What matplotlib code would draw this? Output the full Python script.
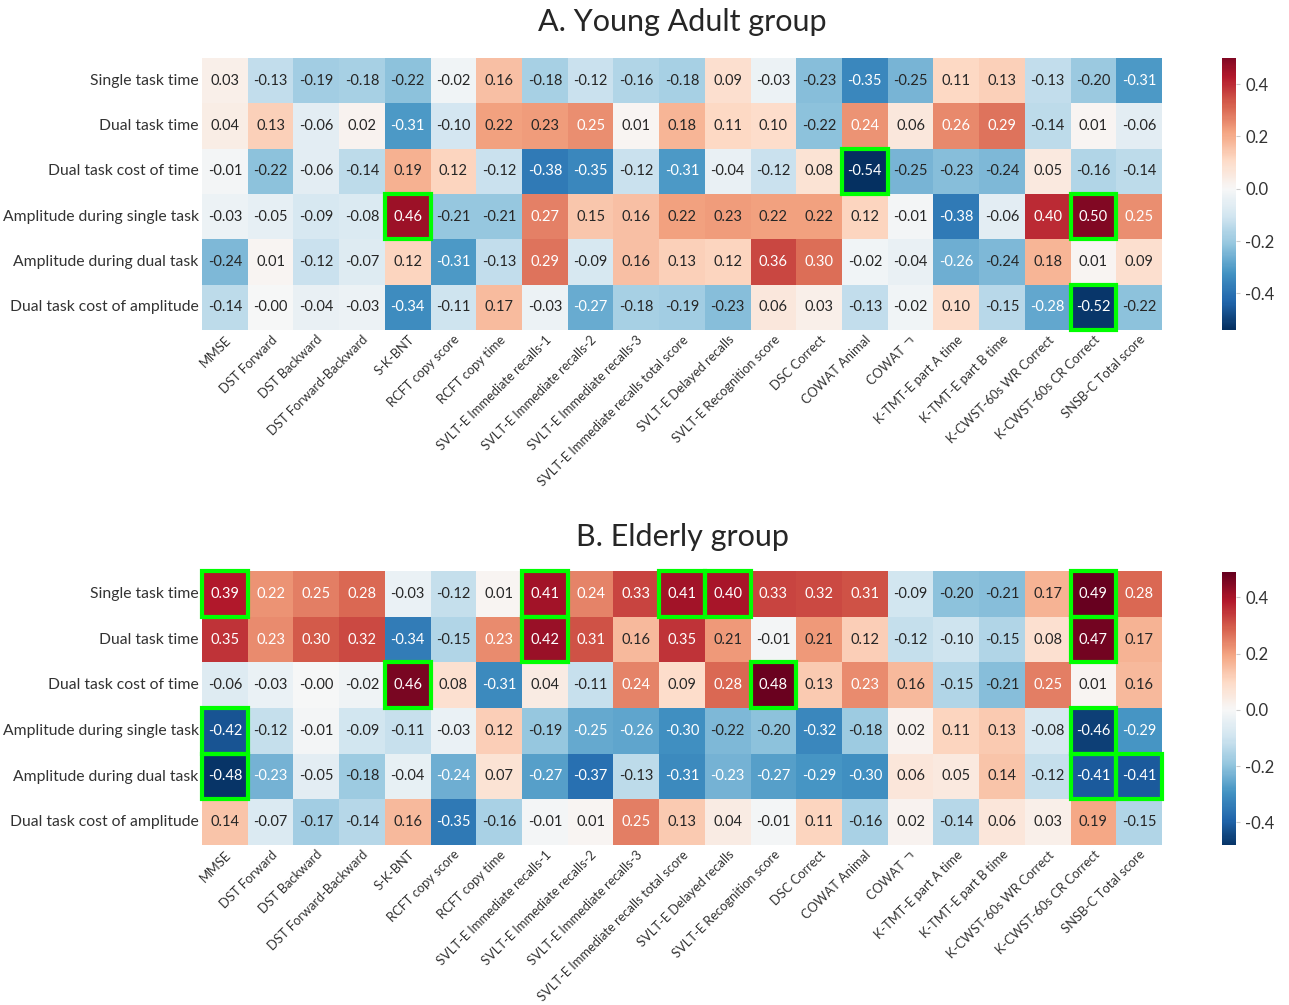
import numpy as np
import matplotlib
matplotlib.use("Agg")
import matplotlib.pyplot as plt
import seaborn as sns
from matplotlib.patches import Rectangle

sns.set_style("white")
plt.rcParams['font.family'] = ['Lato', 'Noto Sans CJK KR', 'DejaVu Sans']
plt.rcParams['axes.unicode_minus'] = False

rows = ["Single task time", "Dual task time", "Dual task cost of time",
        "Amplitude during single task", "Amplitude during dual task",
        "Dual task cost of amplitude"]
cols = ["MMSE", "DST Forward", "DST Backward", "DST Forward-Backward", "S-K-BNT",
        "RCFT copy score", "RCFT copy time", "SVLT-E Immediate recalls-1",
        "SVLT-E Immediate recalls-2", "SVLT-E Immediate recalls-3",
        "SVLT-E Immediate recalls total score", "SVLT-E Delayed recalls",
        "SVLT-E Recognition score", "DSC Correct", "COWAT Animal", "COWAT ㄱ",
        "K-TMT-E part A time", "K-TMT-E part B time", "K-CWST-60s WR Correct",
        "K-CWST-60s CR Correct", "SNSB-C Total score"]

young = [
    [0.03, -0.13, -0.19, -0.18, -0.22, -0.02, 0.16, -0.18, -0.12, -0.16, -0.18, 0.09, -0.03, -0.23, -0.35, -0.25, 0.11, 0.13, -0.13, -0.20, -0.31],
    [0.04, 0.13, -0.06, 0.02, -0.31, -0.10, 0.22, 0.23, 0.25, 0.01, 0.18, 0.11, 0.10, -0.22, 0.24, 0.06, 0.26, 0.29, -0.14, 0.01, -0.06],
    [-0.01, -0.22, -0.06, -0.14, 0.19, 0.12, -0.12, -0.38, -0.35, -0.12, -0.31, -0.04, -0.12, 0.08, -0.54, -0.25, -0.23, -0.24, 0.05, -0.16, -0.14],
    [-0.03, -0.05, -0.09, -0.08, 0.46, -0.21, -0.21, 0.27, 0.15, 0.16, 0.22, 0.23, 0.22, 0.22, 0.12, -0.01, -0.38, -0.06, 0.40, 0.50, 0.25],
    [-0.24, 0.01, -0.12, -0.07, 0.12, -0.31, -0.13, 0.29, -0.09, 0.16, 0.13, 0.12, 0.36, 0.30, -0.02, -0.04, -0.26, -0.24, 0.18, 0.01, 0.09],
    [-0.14, -0.00, -0.04, -0.03, -0.34, -0.11, 0.17, -0.03, -0.27, -0.18, -0.19, -0.23, 0.06, 0.03, -0.13, -0.02, 0.10, -0.15, -0.28, -0.52, -0.22],
]
elderly = [
    [0.39, 0.22, 0.25, 0.28, -0.03, -0.12, 0.01, 0.41, 0.24, 0.33, 0.41, 0.40, 0.33, 0.32, 0.31, -0.09, -0.20, -0.21, 0.17, 0.49, 0.28],
    [0.35, 0.23, 0.30, 0.32, -0.34, -0.15, 0.23, 0.42, 0.31, 0.16, 0.35, 0.21, -0.01, 0.21, 0.12, -0.12, -0.10, -0.15, 0.08, 0.47, 0.17],
    [-0.06, -0.03, -0.00, -0.02, 0.46, 0.08, -0.31, 0.04, -0.11, 0.24, 0.09, 0.28, 0.48, 0.13, 0.23, 0.16, -0.15, -0.21, 0.25, 0.01, 0.16],
    [-0.42, -0.12, -0.01, -0.09, -0.11, -0.03, 0.12, -0.19, -0.25, -0.26, -0.30, -0.22, -0.20, -0.32, -0.18, 0.02, 0.11, 0.13, -0.08, -0.46, -0.29],
    [-0.48, -0.23, -0.05, -0.18, -0.04, -0.24, 0.07, -0.27, -0.37, -0.13, -0.31, -0.23, -0.27, -0.29, -0.30, 0.06, 0.05, 0.14, -0.12, -0.41, -0.41],
    [0.14, -0.07, -0.17, -0.14, 0.16, -0.35, -0.16, -0.01, 0.01, 0.25, 0.13, 0.04, -0.01, 0.11, -0.16, 0.02, -0.14, 0.06, 0.03, 0.19, -0.15],
]
# highlighted (row, col) cells
young_hl = [(3, 4), (2, 14), (3, 19), (5, 19)]
elderly_hl = [(0, 0), (0, 7), (0, 10), (0, 11), (0, 19), (1, 7), (1, 19),
              (2, 4), (2, 12), (3, 0), (3, 19), (4, 0), (4, 19), (4, 20)]

titles = ["A. Young Adult group", "B. Elderly group"]

W, H = 1289, 1005
fig = plt.figure(figsize=(W / 100, H / 100), dpi=100)

def px_axes(x0, y0, x1, y1):
    return fig.add_axes([x0 / W, 1 - y1 / H, (x1 - x0) / W, (y1 - y0) / H])

panels = [
    (young, young_hl, titles[0], (202, 58, 1162, 330), (1222, 58, 1236, 330), 22),
    (elderly, elderly_hl, titles[1], (202, 571, 1162, 845), (1222, 572, 1236, 845), 537),
]

for data, hl, title, hbox, cbox, ty in panels:
    arr = np.array(data)
    ax = px_axes(*hbox)
    cax = px_axes(*cbox)
    sns.heatmap(arr, ax=ax, cbar_ax=cax, cmap="RdBu_r", center=0,
                vmin=arr.min(), vmax=arr.max(),
                annot=True, fmt=".2f", annot_kws={"fontsize": 10.5},
                xticklabels=cols, yticklabels=rows)
    ax.set_xticklabels(cols, rotation=45, ha="right", rotation_mode="anchor",
                       fontsize=9.3, color="#333333")
    ax.set_yticklabels(rows, rotation=0, fontsize=11.3, color="#333333")
    ax.tick_params(axis="both", length=0, pad=2.5)
    for (r, c) in hl:
        ax.add_patch(Rectangle((c, r), 1, 1, fill=False, edgecolor="#00ff00",
                               lw=3, clip_on=False, zorder=5))
    cax.tick_params(labelsize=12, labelcolor="#333333", length=3, color="#cccccc")
    for s in cax.spines.values():
        s.set_visible(False)
    fig.text((hbox[0] + hbox[2]) / 2 / W, 1 - ty / H, title, ha="center",
             va="center", fontsize=22, color="#262626")

fig.savefig("out.png", dpi=100)
